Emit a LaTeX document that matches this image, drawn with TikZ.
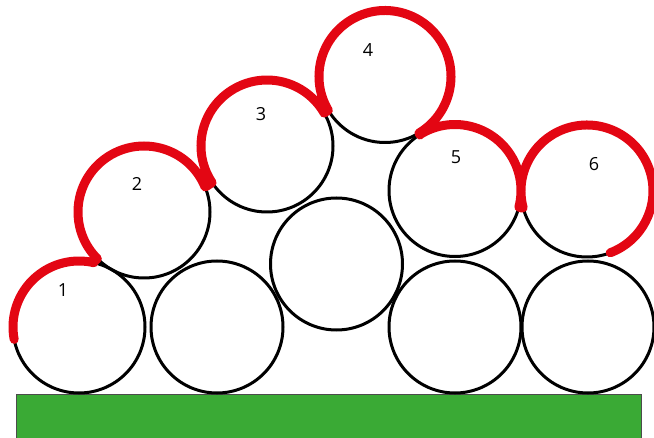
\documentclass[tikz,border=0pt]{standalone}
\usepackage{fontspec}
\setmainfont{Open Sans}
\usetikzlibrary{calc}
\definecolor{redline}{RGB}{227,6,19}
\definecolor{groundgreen}{RGB}{58,170,53}
\begin{document}
\begin{tikzpicture}[x=1pt,y=1pt,
  ball/.style={circle,draw=black,line width=3pt,minimum size=132pt,inner sep=0pt},
  num/.style={font=\fontsize{18}{20}\selectfont,inner sep=0pt},
  redpath/.style={draw=redline,line width=9pt,line cap=round,line join=round}]
\useasboundingbox (0,0) rectangle (654,437);
% ground
\filldraw[fill=groundgreen,draw=black!70,line width=1pt] (16,-2) rectangle (641,43);
% balls
\node[ball] (c1) at (79,110) {};
\node[ball] (b2) at (217,110) {};
\node[ball] (b3) at (336.5,173) {};
\node[ball] (b4) at (455,110) {};
\node[ball] (b5) at (588,110) {};
\node[ball] (c2) at (144,225) {};
\node[ball] (c3) at (267,291) {};
\node[ball] (c4) at (385,360.5) {};
\node[ball] (c5) at (455,246.5) {};
\node[ball] (c6) at (587,246) {};
% junctions
\coordinate (j12) at (94,175);
\coordinate (j23) at (207,251);
\coordinate (j34) at (324,324);
\coordinate (j45) at (420,302);
\coordinate (j56) at (522,229);
% red outline
\draw[redpath]
  ([shift={(190.8:66)}]c1.center) arc[start angle=190.8,end angle=77,radius=66]
  -- (j12) -- ([shift={(225:66)}]c2.center) arc[start angle=225,end angle=22.4,radius=66]
  -- (j23) -- ([shift={(213.7:66)}]c3.center) arc[start angle=213.7,end angle=30,radius=66]
  -- (j34) -- ([shift={(210.9:66)}]c4.center) arc[start angle=210.9,end angle=-59.1,radius=66]
  -- (j45) -- ([shift={(122.2:66)}]c5.center) arc[start angle=122.2,end angle=-14.6,radius=66]
  -- (j56) -- ([shift={(194.7:66)}]c6.center) arc[start angle=194.7,end angle=-69.3,radius=66];
% labels
\node[num] (n1) at (63,147) {1};
\node[num] (n2) at (137,253) {2};
\node[num] (n3) at (261,323) {3};
\node[num] (n4) at (368,387) {4};
\node[num] (n5) at (456,280) {5};
\node[num] (n6) at (594,273) {6};
\end{tikzpicture}
\end{document}
